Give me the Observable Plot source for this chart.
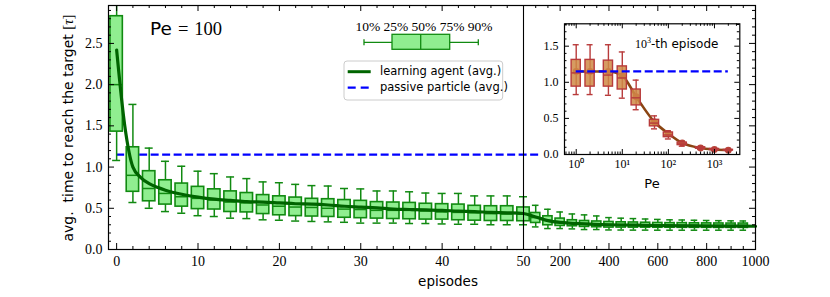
<!DOCTYPE html>
<html><head><meta charset="utf-8">
<script src="https://cdn.jsdelivr.net/npm/d3@7"></script>
<script src="https://cdn.jsdelivr.net/npm/@observablehq/plot@0.6"></script>
<style>
body{margin:0;background:#fff;}
#wrap{position:relative;width:830px;height:297px;overflow:hidden;font-family:"DejaVu Sans",sans-serif;}
#wrap > svg{position:absolute;}
.ov{position:absolute;white-space:nowrap;line-height:1;color:#000;}
.serif{font-family:"Liberation Serif",serif;}
</style></head><body><div id="wrap"></div>
<script>
// ---------- data ----------
const boxEpisodes = [0,2,4,6,8,10,12,14,16,18,20,22,24,26,28,30,32,34,36,38,40,42,44,46,48,50,
  100,150,200,250,300,350,400,450,500,550,600,650,700,750,800,850,900,950];
const p10 = [1.08,0.57,0.50,0.46,0.44,0.41,0.40,0.38,0.375,0.36,0.355,0.345,0.34,0.335,0.33,0.32,0.32,0.32,0.315,0.315,0.31,0.306,0.306,0.30,0.30,0.30,
  0.274,0.254,0.254,0.25,0.242,0.242,0.237,0.236,0.235,0.235,0.234,0.234,0.234,0.234,0.234,0.234,0.234,0.234];
const p25 = [1.43,0.70,0.585,0.545,0.52,0.49,0.485,0.455,0.45,0.43,0.415,0.405,0.40,0.395,0.385,0.38,0.375,0.37,0.367,0.363,0.363,0.355,0.35,0.346,0.346,0.343,
  0.322,0.294,0.286,0.282,0.274,0.27,0.266,0.266,0.265,0.265,0.264,0.264,0.263,0.263,0.263,0.262,0.262,0.262];
const p50 = [2.00,0.90,0.74,0.68,0.64,0.62,0.60,0.575,0.565,0.54,0.525,0.515,0.51,0.50,0.49,0.485,0.475,0.475,0.475,0.467,0.455,0.45,0.445,0.435,0.43,0.43,
  0.387,0.355,0.334,0.322,0.315,0.31,0.306,0.304,0.302,0.30,0.30,0.298,0.297,0.296,0.295,0.295,0.294,0.294];
const p75 = [2.83,1.24,0.95,0.84,0.80,0.76,0.73,0.705,0.685,0.66,0.645,0.63,0.615,0.61,0.60,0.59,0.575,0.57,0.565,0.555,0.55,0.545,0.53,0.525,0.525,0.51,
  0.443,0.403,0.375,0.355,0.346,0.34,0.334,0.33,0.328,0.325,0.322,0.32,0.32,0.318,0.317,0.316,0.315,0.315];
const p90 = [3.3,1.76,1.23,1.07,1.01,0.95,0.92,0.88,0.86,0.82,0.81,0.79,0.775,0.77,0.74,0.735,0.71,0.71,0.70,0.685,0.68,0.68,0.65,0.65,0.65,0.64,
  0.536,0.488,0.455,0.431,0.42,0.407,0.387,0.38,0.375,0.37,0.365,0.36,0.358,0.355,0.352,0.35,0.348,0.346];

const avgEpisodes = [0,1,2,3,4,5,6,8,10,12,14,16,18,20,22,24,26,28,30,32,34,36,38,40,42,44,46,48,50,
  100,150,200,250,300,400,500,600,700,800,900,1000];
const avgValues = [2.42,1.50,1.00,0.87,0.80,0.755,0.72,0.67,0.635,0.61,0.595,0.58,0.575,0.565,0.555,0.55,0.54,0.525,0.515,0.505,0.49,0.485,0.48,0.475,0.465,0.46,0.45,0.445,0.437,
  0.395,0.35,0.328,0.318,0.31,0.30,0.295,0.29,0.287,0.285,0.283,0.282];

const passiveEpisodes = [0, 120];
const passiveValue = 1.15;
const splitEpisode = 50;

const xTickValues = [0,10,20,30,40,50,200,400,600,800,1000];
const yTickValues = [0,0.5,1.0,1.5,2.0,2.5];

// inset: 10^3-th episode vs Pe
const peValues = [1,2,5,10,20,50,100,200,500,1000,2000];
const inP10 = [0.83,0.83,0.82,0.78,0.62,0.355,0.215,0.115,0.07,0.055,0.05];
const inP25 = [0.94,0.94,0.94,0.90,0.68,0.39,0.24,0.13,0.08,0.062,0.055];
const inP50 = [1.13,1.13,1.10,1.06,0.785,0.435,0.27,0.148,0.09,0.07,0.06];
const inP75 = [1.31,1.31,1.30,1.22,0.90,0.48,0.305,0.165,0.10,0.077,0.065];
const inP90 = [1.52,1.52,1.52,1.42,1.03,0.535,0.33,0.18,0.11,0.085,0.07];
const inAvg = [1.15,1.15,1.15,1.09,0.80,0.45,0.29,0.16,0.09,0.07,0.06];
const inPassive = 1.15;
const inXTicks = [1,10,100,1000];
const inXTickLabels = ["10⁰","10¹","10²","10³"];
const inYTicks = [0,0.5,1.0,1.5];

// ---------- layout ----------
const W = 830, H = 297;
const mL = 108, mR = 75, mT = 5, mB = 48;
const fw = W - mL - mR, fh = H - mT - mB;
const xDomain = [-1, splitEpisode, 1000];
const xRange = [mL, 523, W - mR];
const xs = d3.scaleLinear(xDomain, xRange);

const boxes = boxEpisodes.map((e, i) => {
  const hw = e <= splitEpisode ? 6.2 : 4.6;
  const cw = e <= splitEpisode ? 4 : 3.3;
  return {e, p10: p10[i], p25: p25[i], p50: p50[i], p75: p75[i], p90: p90[i],
    x1: xs.invert(xs(e) - hw), x2: xs.invert(xs(e) + hw),
    c1: xs.invert(xs(e) - cw), c2: xs.invert(xs(e) + cw)};
});
const avg = avgEpisodes.map((e, i) => ({e, v: avgValues[i]}));
const passive = [{x1: passiveEpisodes[0], x2: passiveEpisodes[1], y: passiveValue}];

const xMinor = d3.range(0, splitEpisode + 1, 2).filter(d => d % 10 !== 0)
  .concat(d3.range(100, 1001, 50).filter(d => d % 200 !== 0));
const yMinor = d3.range(0, 30).map(d => d / 10).filter(d => Math.round(d * 10) % 5 !== 0);

const green = "#118a11";
const main = Plot.plot({
  width: W, height: H, marginLeft: mL, marginRight: mR, marginTop: mT, marginBottom: mB,
  style: {fontFamily: "Liberation Serif, serif", fontSize: "14px", background: "transparent", color: "black"},
  x: {type: "linear", domain: xDomain, range: xRange},
  y: {domain: [0, 2.96]},
  marks: [
    Plot.ruleY(passive, {y: "y", x1: "x1", x2: "x2", stroke: "#0000ff", strokeWidth: 2.2, strokeDasharray: "8,3.5"}),
    Plot.ruleX(boxes, {x: "e", y1: "p10", y2: "p90", stroke: green, strokeWidth: 1.5, clip: true}),
    Plot.ruleY(boxes, {y: "p10", x1: "c1", x2: "c2", stroke: green, strokeWidth: 1.5}),
    Plot.ruleY(boxes, {y: "p90", x1: "c1", x2: "c2", stroke: green, strokeWidth: 1.5, clip: true}),
    Plot.rect(boxes, {x1: "x1", x2: "x2", y1: "p25", y2: "p75", fill: "#90ee90", stroke: green, strokeWidth: 1.6}),
    Plot.ruleY(boxes, {y: "p50", x1: "x1", x2: "x2", stroke: green, strokeWidth: 1.5}),
    Plot.line(avg, {x: "e", y: "v", stroke: "#006400", strokeWidth: 3.2, curve: "monotone-x"}),
    Plot.ruleX([splitEpisode], {stroke: "black", strokeWidth: 1.1}),
    // inward ticks
    Plot.tickX(xTickValues, {insetTop: fh - 6, stroke: "black"}),
    Plot.tickX(xTickValues, {insetBottom: fh - 6, stroke: "black"}),
    Plot.tickX(xMinor, {insetTop: fh - 3, stroke: "black"}),
    Plot.tickX(xMinor, {insetBottom: fh - 3, stroke: "black"}),
    Plot.tickY(yTickValues, {insetRight: fw - 6, stroke: "black"}),
    Plot.tickY(yTickValues, {insetLeft: fw - 6, stroke: "black"}),
    Plot.tickY(yMinor, {insetRight: fw - 3, stroke: "black"}),
    Plot.tickY(yMinor, {insetLeft: fw - 3, stroke: "black"}),
    Plot.frame({stroke: "black", strokeWidth: 1.2}),
    Plot.axisX(xTickValues, {tickSize: 0, tickPadding: 7, label: null, fontSize: 14, tickFormat: d => String(d)}),
    Plot.axisY(yTickValues, {tickSize: 0, tickPadding: 6, label: null, fontSize: 14, tickFormat: d => d.toFixed(1)})
  ]
});
main.style.left = "0px"; main.style.top = "0px";
const wrap = document.getElementById("wrap");
wrap.appendChild(main);

// ---------- inset ----------
const iL = 530, iT = 15, iW = 215, iH = 180;
const imL = 34, imR = 5.7, imT = 8.3, imB = 41;
const ifw = iW - imL - imR, ifh = iH - imT - imB;
const ixDomain = [Math.pow(10, -0.254), Math.pow(10, 3.55)];
const ixs = d3.scaleLog(ixDomain, [imL, iW - imR]);
const inset = peValues.map((pe, i) => ({pe, p10: inP10[i], p25: inP25[i], p50: inP50[i], p75: inP75[i], p90: inP90[i], avg: inAvg[i],
  x1: ixs.invert(ixs(pe) - 4.6), x2: ixs.invert(ixs(pe) + 4.6),
  c1: ixs.invert(ixs(pe) - 3), c2: ixs.invert(ixs(pe) + 3)}));
const inPassiveLine = [{x1: peValues[0], x2: peValues[peValues.length - 1], y: inPassive}];
const ixMinor = [];
for (let k = -1; k <= 3; k++) for (let m = 2; m <= 9; m++) {
  const v = m * Math.pow(10, k);
  if (v >= ixDomain[0] && v <= ixDomain[1]) ixMinor.push(v);
}
const iyMinor = d3.range(0, 19).map(d => d / 10).filter(d => Math.round(d * 10) % 5 !== 0);
const red = "#b83b3b";
const insetPlot = Plot.plot({
  width: iW, height: iH, marginLeft: imL, marginRight: imR, marginTop: imT, marginBottom: imB,
  style: {fontFamily: "Liberation Serif, serif", fontSize: "12px", background: "transparent", color: "black", overflow: "visible"},
  x: {type: "log", domain: ixDomain},
  y: {domain: [0, 1.81]},
  marks: [
    Plot.frame({fill: "white", stroke: null}),
    Plot.line(inset, {x: "pe", y: "avg", stroke: "#8b4513", strokeWidth: 2.6, curve: "monotone-x"}),
    Plot.dot(inset, {x: "pe", y: "avg", r: 3.4, fill: "#b8453a"}),
    Plot.ruleX(inset, {x: "pe", y1: "p10", y2: "p90", stroke: red, strokeWidth: 1.4}),
    Plot.ruleY(inset, {y: "p10", x1: "c1", x2: "c2", stroke: red, strokeWidth: 1.4}),
    Plot.ruleY(inset, {y: "p90", x1: "c1", x2: "c2", stroke: red, strokeWidth: 1.4}),
    Plot.rect(inset, {x1: "x1", x2: "x2", y1: "p25", y2: "p75", fill: "#cf8a45", fillOpacity: 0.85, stroke: red, strokeWidth: 1.4}),
    Plot.ruleY(inset, {y: "p50", x1: "x1", x2: "x2", stroke: red, strokeWidth: 1.4}),
    Plot.ruleY(inPassiveLine, {y: "y", x1: "x1", x2: "x2", stroke: "#0000ff", strokeWidth: 2.2, strokeDasharray: "8,3.5"}),
    Plot.tickX(inXTicks, {insetTop: ifh - 5, stroke: "black"}),
    Plot.tickX(inXTicks, {insetBottom: ifh - 5, stroke: "black"}),
    Plot.tickX(ixMinor, {insetTop: ifh - 2.5, stroke: "black"}),
    Plot.tickX(ixMinor, {insetBottom: ifh - 2.5, stroke: "black"}),
    Plot.tickY(inYTicks, {insetRight: ifw - 5, stroke: "black"}),
    Plot.tickY(inYTicks, {insetLeft: ifw - 5, stroke: "black"}),
    Plot.tickY(iyMinor, {insetRight: ifw - 2.5, stroke: "black"}),
    Plot.tickY(iyMinor, {insetLeft: ifw - 2.5, stroke: "black"}),
    Plot.frame({stroke: "black", strokeWidth: 1.2}),
    Plot.axisX(inXTicks, {tickSize: 0, tickPadding: 5, label: null, fontSize: 12, tickFormat: (d, i) => inXTickLabels[inXTicks.indexOf(d)]}),
    Plot.axisY(inYTicks, {tickSize: 0, tickPadding: 6, label: null, fontSize: 12, tickFormat: d => d.toFixed(1)})
  ]
});
insetPlot.style.left = iL + "px"; insetPlot.style.top = iT + "px";
wrap.appendChild(insetPlot);

// ---------- overlays: labels, annotations, legends ----------
function ov(html, x, y, {size = 14, cls = "", ax = 0, ay = -50, rot = 0} = {}) {
  const d = document.createElement("div");
  d.className = "ov " + cls;
  d.style.left = x + "px"; d.style.top = y + "px";
  d.style.fontSize = size + "px";
  d.style.transform = `translate(${ax}%, ${ay}%)` + (rot ? ` rotate(${rot}deg)` : "");
  d.innerHTML = html;
  wrap.appendChild(d);
  return d;
}
ov('avg.&nbsp; time to reach the target <span class="serif" style="font-size:15px">[<i>τ</i>]</span>', 68, 128, {size: 14, ax: -50, rot: -90});
ov("episodes", 448, 282, {size: 13.5, ax: -50});
ov('Pe<span class="serif" style="margin-left:6px">=</span><span class="serif" style="margin-left:6px">100</span>', 150, 29, {size: 18.5});
ov('<span class="serif">10<sup style="font-size:8px;vertical-align:5px">3</sup></span>-th episode', 635, 43, {size: 12});
ov("Pe", 652, 183, {size: 13, ax: -50});
ov('10% 25% 50% 75% 90%', 424, 27, {size: 13.5, cls: "serif", ax: -50});

// box legend glyph
const ns = "http://www.w3.org/2000/svg";
const g = document.createElementNS(ns, "svg");
g.setAttribute("width", W); g.setAttribute("height", H);
g.style.left = "0px"; g.style.top = "0px"; g.style.position = "absolute";
g.innerHTML = `
 <line x1="364" y1="42.3" x2="478.3" y2="42.3" stroke="${green}" stroke-width="1.3"/>
 <line x1="364" y1="39.3" x2="364" y2="45.3" stroke="${green}" stroke-width="1.3"/>
 <line x1="478.3" y1="39.3" x2="478.3" y2="45.3" stroke="${green}" stroke-width="1.3"/>
 <rect x="392" y="34.3" width="57.7" height="15" fill="#90ee90" stroke="${green}" stroke-width="1.3"/>
 <line x1="420.7" y1="34.3" x2="420.7" y2="49.3" stroke="${green}" stroke-width="1.3"/>
 <rect x="344" y="61" width="158.7" height="39" rx="3" fill="white" fill-opacity="0.85" stroke="#cccccc" stroke-width="1"/>
 <line x1="347.7" y1="71.7" x2="370.7" y2="71.7" stroke="#006400" stroke-width="3"/>
 <line x1="347.7" y1="87.7" x2="370.7" y2="87.7" stroke="#0000ff" stroke-width="2.2" stroke-dasharray="8,5"/>`;
wrap.appendChild(g);
ov("learning agent (avg.)", 380, 72, {size: 11.5});
ov("passive particle (avg.)", 380, 88, {size: 11.5});
</script></body></html>
